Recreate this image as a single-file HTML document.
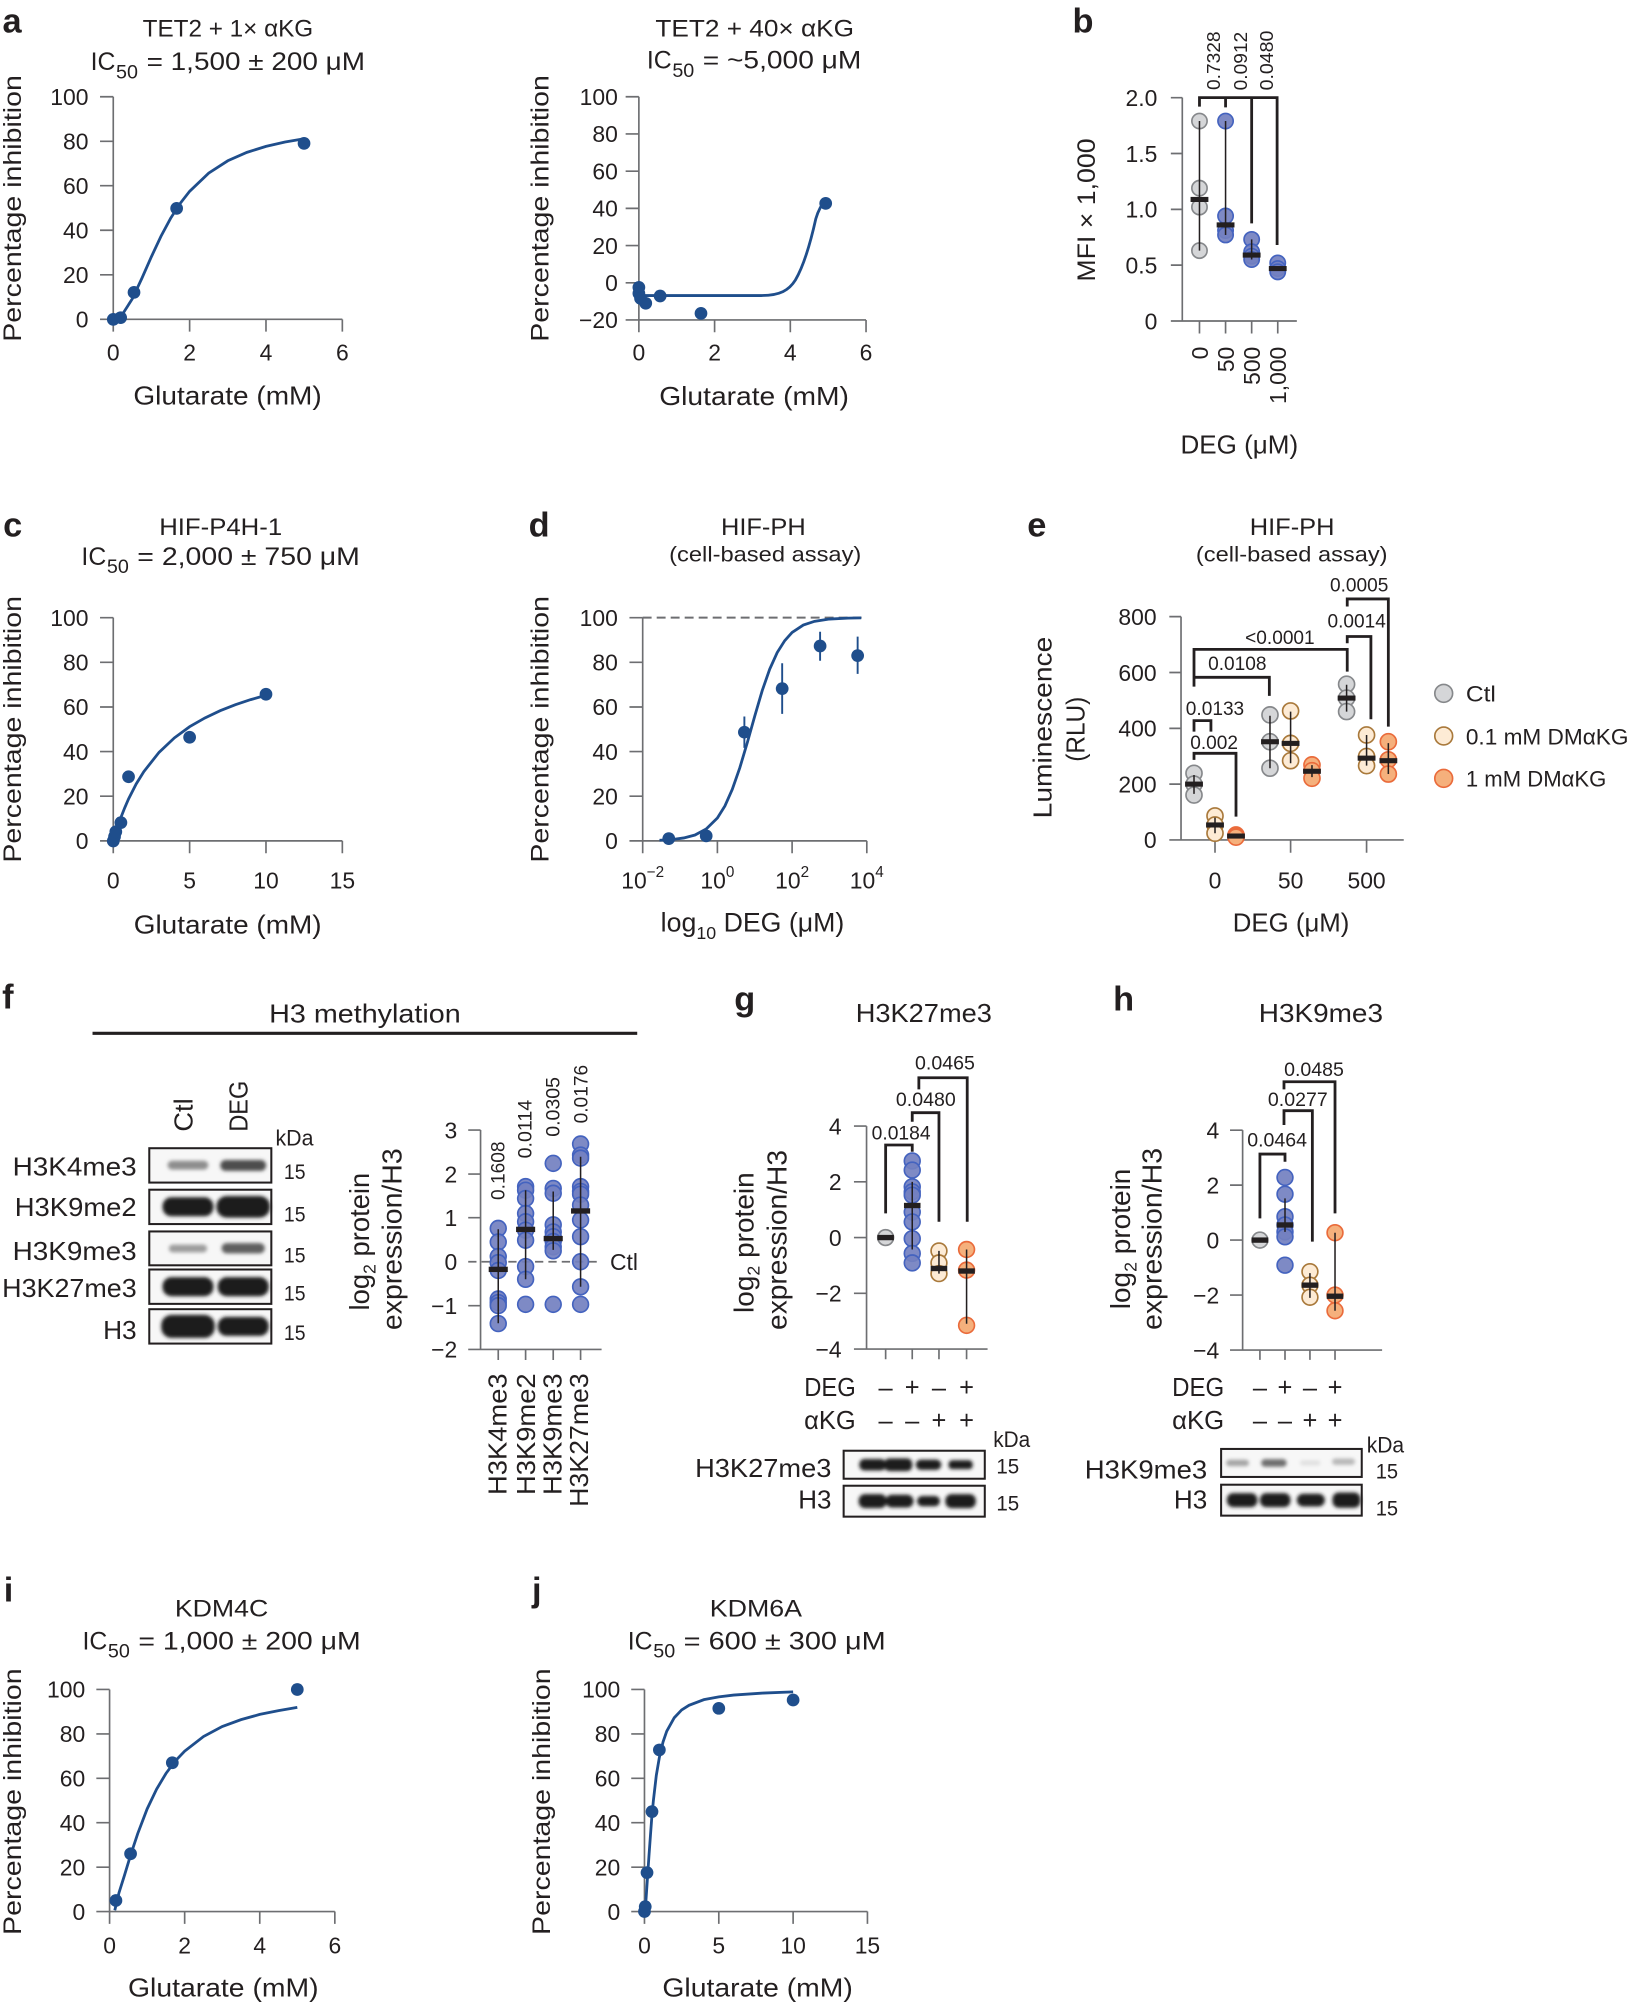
<!DOCTYPE html>
<html><head><meta charset="utf-8"><style>
html,body{margin:0;padding:0;background:#fff;}
svg{display:block;}
text{font-family:"Liberation Sans",Arial,sans-serif;fill:#231f20;}
.lb{font-weight:bold;font-size:27px;}
.ax{stroke:#6d6e71;stroke-width:1.3;fill:none;}
.cv{stroke:#1f4e8c;stroke-width:2.2;fill:none;}
.dt{fill:#1f4e8c;}
.eb{stroke:#1f4e8c;stroke-width:1.5;}
.br{stroke:#231f20;stroke-width:2.2;fill:none;}
.el{stroke:#231f20;stroke-width:1.2;fill:none;}
.mb{fill:#231f20;}
.gr{fill:#d5d6d8;stroke:#86888b;stroke-width:1.3;}
.bl{fill:#7380c0;stroke:#4463bf;stroke-width:1.3;fill-opacity:0.92;}
.tn{fill:#fdebd5;stroke:#a9793b;stroke-width:1.3;}
.or{fill:#f5b07c;stroke:#ea6b3b;stroke-width:1.3;}
.tk{font-size:18px;}
.bx{fill:#f7f7f7;stroke:#231f20;stroke-width:1.6;}
</style></head><body>
<svg width="1629" height="2005" viewBox="0 0 1280 1575.4" xmlns="http://www.w3.org/2000/svg">
<defs><filter id="bl1" x="-30%" y="-60%" width="160%" height="220%"><feGaussianBlur stdDeviation="1.4"/></filter></defs>

<!-- ===== Panel a left ===== -->
<text class="lb" x="2" y="25.5">a</text>
<text x="112.1" y="28.8" font-size="19" textLength="134" lengthAdjust="spacingAndGlyphs">TET2 + 1× αKG</text>
<text x="71.2" y="55" font-size="19.5">IC</text><text x="91.2" y="61.5" font-size="15.5">50</text>
<text x="115.2" y="55" font-size="19.5" textLength="171.6" lengthAdjust="spacingAndGlyphs">= 1,500 ± 200 μM</text>
<path class="ax" d="M89,76V250.9H269M78.6,76H89M78.6,111H89M78.6,145.9H89M78.6,180.9H89M78.6,215.9H89M78.6,250.9H89M89,250.9V260.6M149,250.9V260.6M209,250.9V260.6M269,250.9V260.6"/>
<g class="tk" text-anchor="end"><text x="69.5" y="82.5">100</text><text x="69.5" y="117.5">80</text><text x="69.5" y="152.4">60</text><text x="69.5" y="187.4">40</text><text x="69.5" y="222.4">20</text><text x="69.5" y="257.4">0</text></g>
<g class="tk" text-anchor="middle"><text x="89" y="283.4">0</text><text x="149" y="283.4">2</text><text x="209" y="283.4">4</text><text x="269" y="283.4">6</text></g>
<text x="104.8" y="318" font-size="20" textLength="148" lengthAdjust="spacingAndGlyphs">Glutarate (mM)</text>
<text transform="translate(16.5,268.5) rotate(-90)" font-size="19.5" textLength="209.5" lengthAdjust="spacingAndGlyphs">Percentage inhibition</text>
<polyline class="cv" points="89,250.9 96.5,246.5 104,234.7 111.5,218.6 119,201.6 126.5,185.6 134,171.6 141.5,159.9 149,150.3 164,136 179,126.3 194,119.7 209,115 224,111.6 239,109"/>
<g class="dt"><circle cx="89" cy="250.9" r="5"/><circle cx="94.8" cy="249.6" r="5"/><circle cx="105.3" cy="229.7" r="5"/><circle cx="138.8" cy="163.7" r="5"/><circle cx="238.9" cy="112.6" r="5"/></g>

<!-- ===== Panel a right ===== -->
<text x="515" y="28.5" font-size="19" textLength="156" lengthAdjust="spacingAndGlyphs">TET2 + 40× αKG</text>
<text x="508.3" y="54" font-size="19.5">IC</text><text x="528.3" y="60.5" font-size="15.5">50</text>
<text x="552.2" y="54" font-size="19.5" textLength="124.6" lengthAdjust="spacingAndGlyphs">= ~5,000 μM</text>
<path class="ax" d="M502,76V251.4H680.5M491.6,76H502M491.6,105.2H502M491.6,134.5H502M491.6,163.7H502M491.6,192.9H502M491.6,222.2H502M491.6,251.4H502M502,251.4V261M561.5,251.4V261M621,251.4V261M680.5,251.4V261"/>
<g class="tk" text-anchor="end"><text x="485.5" y="82.5">100</text><text x="485.5" y="111.7">80</text><text x="485.5" y="141">60</text><text x="485.5" y="170.2">40</text><text x="485.5" y="199.4">20</text><text x="485.5" y="228.7">0</text><text x="485.5" y="257.9">−20</text></g>
<g class="tk" text-anchor="middle"><text x="502" y="283.4">0</text><text x="561.5" y="283.4">2</text><text x="621" y="283.4">4</text><text x="680.5" y="283.4">6</text></g>
<text x="518" y="318.2" font-size="20" textLength="149" lengthAdjust="spacingAndGlyphs">Glutarate (mM)</text>
<text transform="translate(431,268.5) rotate(-90)" font-size="19.5" textLength="209.5" lengthAdjust="spacingAndGlyphs">Percentage inhibition</text>
<path class="cv" d="M502,232.2L598,232.2C613,232.2 620,228 625,220C632,208 637,190 641,172C643,165 646,160 649,157"/>
<g class="dt"><circle cx="502" cy="225.8" r="5"/><circle cx="502" cy="230.5" r="5"/><circle cx="503.3" cy="234.4" r="5"/><circle cx="507.4" cy="238.3" r="5"/><circle cx="518.7" cy="232.6" r="5"/><circle cx="550.8" cy="246.2" r="5"/><circle cx="648.8" cy="159.8" r="5"/></g>

<!-- ===== Panel b ===== -->
<text class="lb" x="842.7" y="25.4">b</text>
<text transform="translate(958.5,70.7) rotate(-90)" font-size="14.5" textLength="46" lengthAdjust="spacingAndGlyphs">0.7328</text>
<text transform="translate(979.7,71) rotate(-90)" font-size="14.5" textLength="46" lengthAdjust="spacingAndGlyphs">0.0912</text>
<text transform="translate(1000.4,71) rotate(-90)" font-size="14.5" textLength="47" lengthAdjust="spacingAndGlyphs">0.0480</text>
<path class="ax" d="M929,76.7V252.2H1019M920,76.7H929M920,120.6H929M920,164.5H929M920,208.3H929M920,252.2H929M942.5,252.2V262M963,252.2V262M983.5,252.2V262M1004,252.2V262"/>
<g class="tk" text-anchor="end"><text x="909.4" y="83.2">2.0</text><text x="909.4" y="127.1">1.5</text><text x="909.4" y="171">1.0</text><text x="909.4" y="214.8">0.5</text><text x="909.4" y="258.7">0</text></g>
<g class="tk" text-anchor="end"><text transform="translate(949,272.4) rotate(-90)">0</text><text transform="translate(969.5,272.4) rotate(-90)">50</text><text transform="translate(990,272.4) rotate(-90)">500</text><text transform="translate(1010.5,272.4) rotate(-90)">1,000</text></g>
<text x="927.6" y="356.2" font-size="20" textLength="92.4" lengthAdjust="spacingAndGlyphs">DEG (μM)</text>
<text transform="translate(860.3,221.3) rotate(-90)" font-size="19.5" textLength="112.6" lengthAdjust="spacingAndGlyphs">MFI × 1,000</text>
<path class="br" d="M942.5,83.8V76.7H1003.5V192.5M963,76.7V84.3M983.5,76.7V175.5"/>
<g class="gr"><circle cx="942.5" cy="95.1" r="6"/><circle cx="942.5" cy="147.8" r="6"/><circle cx="942.5" cy="162.7" r="6"/><circle cx="942.5" cy="196.9" r="6"/></g>
<g class="bl"><circle cx="963" cy="95.1" r="6"/><circle cx="963" cy="169.7" r="6"/><circle cx="963" cy="181.1" r="6"/><circle cx="963" cy="184.6" r="6"/>
<circle cx="983.5" cy="188.1" r="6"/><circle cx="983.5" cy="197.8" r="6"/><circle cx="983.5" cy="201.3" r="6"/><circle cx="983.5" cy="203.9" r="6"/>
<circle cx="1004" cy="206.6" r="6"/><circle cx="1004" cy="211" r="6"/><circle cx="1004" cy="213.6" r="6"/></g>
<path class="el" d="M942.5,95.1V196.9M963,95.1V184.6M983.5,188.1V203.9"/>
<g class="mb"><rect x="935.5" y="154.7" width="14" height="4"/><rect x="956" y="174.7" width="14" height="4"/><rect x="976.5" y="198.4" width="14" height="4"/><rect x="997" y="209" width="14" height="4"/></g>

<!-- ===== Panel c ===== -->
<text class="lb" x="2.5" y="421.7">c</text>
<text x="125.1" y="420.4" font-size="19" textLength="96.6" lengthAdjust="spacingAndGlyphs">HIF-P4H-1</text>
<text x="64" y="443.9" font-size="19.5">IC</text><text x="84" y="450.4" font-size="15.5">50</text>
<text x="107.9" y="443.9" font-size="19.5" textLength="174.9" lengthAdjust="spacingAndGlyphs">= 2,000 ± 750 μM</text>
<path class="ax" d="M89,485.3V660.7H269M78.6,485.3H89M78.6,520.4H89M78.6,555.5H89M78.6,590.5H89M78.6,625.6H89M78.6,660.7H89M89,660.7V670.4M149,660.7V670.4M209,660.7V670.4M269,660.7V670.4"/>
<g class="tk" text-anchor="end"><text x="69.5" y="491.8">100</text><text x="69.5" y="526.9">80</text><text x="69.5" y="562">60</text><text x="69.5" y="597">40</text><text x="69.5" y="632.1">20</text><text x="69.5" y="667.2">0</text></g>
<g class="tk" text-anchor="middle"><text x="89" y="698">0</text><text x="149" y="698">5</text><text x="209" y="698">10</text><text x="269" y="698">15</text></g>
<text x="105.1" y="733.4" font-size="20" textLength="147.6" lengthAdjust="spacingAndGlyphs">Glutarate (mM)</text>
<text transform="translate(16.5,677.8) rotate(-90)" font-size="19.5" textLength="209.5" lengthAdjust="spacingAndGlyphs">Percentage inhibition</text>
<polyline class="cv" points="89,660.7 92,651 95,642.3 98,634.7 101,627.8 107,616 113,606.3 125,591.1 137,579.8 149,571 161,564.1 173,558.4 185,553.7 197,549.7 209,546.3"/>
<g class="dt"><circle cx="89" cy="660.8" r="5"/><circle cx="90" cy="657.4" r="5"/><circle cx="91" cy="653.5" r="5"/><circle cx="95" cy="646.4" r="5"/><circle cx="101" cy="610.3" r="5"/><circle cx="149" cy="579.3" r="5"/><circle cx="209" cy="545.5" r="5"/></g>

<!-- ===== Panel d ===== -->
<text class="lb" x="415.4" y="421.7">d</text>
<text x="566.5" y="420.4" font-size="19" textLength="66.6" lengthAdjust="spacingAndGlyphs">HIF-PH</text>
<text x="525.8" y="441.3" font-size="17" textLength="151" lengthAdjust="spacingAndGlyphs">(cell-based assay)</text>
<path d="M505,485.3H677" stroke="#6d6e71" stroke-width="1.6" stroke-dasharray="7 4" fill="none"/>
<path class="ax" d="M505,485.3V660.7H681.1M494.6,485.3H505M494.6,520.4H505M494.6,555.5H505M494.6,590.5H505M494.6,625.6H505M494.6,660.7H505M505,660.7V670.4M563.7,660.7V670.4M622.4,660.7V670.4M681.1,660.7V670.4"/>
<g class="tk" text-anchor="end"><text x="485.5" y="491.8">100</text><text x="485.5" y="526.9">80</text><text x="485.5" y="562">60</text><text x="485.5" y="597">40</text><text x="485.5" y="632.1">20</text><text x="485.5" y="667.2">0</text></g>
<g class="tk" text-anchor="middle"><text x="505" y="698">10<tspan font-size="12" dy="-9">−2</tspan></text><text x="563.7" y="698">10<tspan font-size="12" dy="-9">0</tspan></text><text x="622.4" y="698">10<tspan font-size="12" dy="-9">2</tspan></text><text x="681.1" y="698">10<tspan font-size="12" dy="-9">4</tspan></text></g>
<text x="591.3" y="732" font-size="21" text-anchor="middle">log<tspan font-size="14" dy="6">10</tspan><tspan dy="-6"> DEG (μM)</tspan></text>
<text transform="translate(431,677.8) rotate(-90)" font-size="19.5" textLength="209.5" lengthAdjust="spacingAndGlyphs">Percentage inhibition</text>
<polyline class="cv" points="518.2,660.2 528.5,659.6 537.3,658.4 546.1,656.1 554.9,651.4 563.7,642.7 569.6,633.3 575.4,620.2 581.3,603.3 587.2,583.5 593.1,562.5 598.9,542.7 604.8,525.8 610.7,512.7 616.6,503.4 622.4,496.9 631.2,491.1 640,488.2 651.8,486.4 666.4,485.7 676.7,485.5"/>
<path class="eb" d="M584.9,587.6V563M614.6,560.9V521.1M644.4,519.2V496.4M673.9,529.5V500.2"/>
<g class="dt"><circle cx="525.5" cy="658.9" r="5"/><circle cx="554.9" cy="656.8" r="5"/><circle cx="584.9" cy="575.3" r="5"/><circle cx="614.6" cy="541.1" r="5"/><circle cx="644.4" cy="507.6" r="5"/><circle cx="673.9" cy="515.1" r="5"/></g>

<!-- ===== Panel e ===== -->
<text class="lb" x="807.2" y="421.7">e</text>
<text x="982" y="420.4" font-size="19" textLength="66.6" lengthAdjust="spacingAndGlyphs">HIF-PH</text>
<text x="939.7" y="441.3" font-size="17" textLength="150.6" lengthAdjust="spacingAndGlyphs">(cell-based assay)</text>
<path class="ax" d="M928,484.5V660H1103M918.8,484.5H928M918.8,528.4H928M918.8,572.3H928M918.8,616.1H928M918.8,660H928M954.7,660V670M1014.1,660V670M1073.8,660V670"/>
<g class="tk" text-anchor="end"><text x="908.8" y="491">800</text><text x="908.8" y="534.9">600</text><text x="908.8" y="578.8">400</text><text x="908.8" y="622.6">200</text><text x="908.8" y="666.5">0</text></g>
<g class="tk" text-anchor="middle"><text x="954.7" y="698">0</text><text x="1014.1" y="698">50</text><text x="1073.8" y="698">500</text></g>
<text x="968.7" y="732" font-size="20" textLength="91.6" lengthAdjust="spacingAndGlyphs">DEG (μM)</text>
<text transform="translate(826.1,643) rotate(-90)" font-size="20" textLength="142.7" lengthAdjust="spacingAndGlyphs">Luminescence</text>
<text transform="translate(852,598.5) rotate(-90)" font-size="20" textLength="51" lengthAdjust="spacingAndGlyphs">(RLU)</text>
<g font-size="15" text-anchor="middle">
<text x="1068" y="464.8">0.0005</text><text x="1066" y="492.9">0.0014</text><text x="1005.7" y="506">&lt;0.0001</text><text x="972.2" y="526.4">0.0108</text><text x="954.7" y="561.8">0.0133</text><text x="954" y="588.5">0.002</text></g>
<path class="br" d="M1058.6,476.5V470.6H1090.9V570.9M1058.6,505.4V500.1H1077.2V565.1M938.2,539.5V510.2H1058.6V527.7M938.2,532.2H997.4V546.8M938.2,574.9V566.2H951.5V574.9M938.2,597.1V591.9H971.2V641.6"/>
<g class="gr"><circle cx="938.2" cy="607.6" r="6.3"/><circle cx="938.2" cy="616.1" r="6.3"/><circle cx="938.2" cy="624.7" r="6.3"/>
<circle cx="997.9" cy="561.7" r="6.3"/><circle cx="997.9" cy="582.8" r="6.3"/><circle cx="997.9" cy="603.6" r="6.3"/>
<circle cx="1058.1" cy="537.6" r="6.3"/><circle cx="1058.1" cy="548.5" r="6.3"/><circle cx="1058.1" cy="559.1" r="6.3"/></g>
<g class="tn"><circle cx="954.7" cy="641.1" r="6.3"/><circle cx="954.7" cy="648.2" r="6.3"/><circle cx="954.7" cy="654.7" r="6.3"/>
<circle cx="1014.1" cy="558.6" r="6.3"/><circle cx="1014.1" cy="584.1" r="6.3"/><circle cx="1014.1" cy="597.7" r="6.3"/>
<circle cx="1073.8" cy="577.5" r="6.3"/><circle cx="1073.8" cy="594.4" r="6.3"/><circle cx="1073.8" cy="601.6" r="6.3"/></g>
<g class="or"><circle cx="971.2" cy="656.1" r="6.3"/><circle cx="971.2" cy="656.9" r="6.3"/><circle cx="971.2" cy="657.8" r="6.3"/>
<circle cx="1030.9" cy="601" r="6.3"/><circle cx="1030.9" cy="605.6" r="6.3"/><circle cx="1030.9" cy="611.5" r="6.3"/>
<circle cx="1090.9" cy="582.8" r="6.3"/><circle cx="1090.9" cy="597" r="6.3"/><circle cx="1090.9" cy="608.2" r="6.3"/></g>
<path class="el" d="M938.2,608.9V623.8M954.7,642.4V654.7M997.9,562.4V603.6M1014.1,559.1V599.7M1030.9,601.2V610.6M1058.1,538V559.1M1073.8,577.5V601.6M1090.9,583.9V608.2"/>
<g class="mb"><rect x="931.2" y="614.1" width="14" height="4"/><rect x="947.7" y="646.2" width="14" height="4"/><rect x="964.2" y="654.9" width="14" height="4"/>
<rect x="990.9" y="580.8" width="14" height="4"/><rect x="1007.1" y="582.1" width="14" height="4"/><rect x="1023.9" y="604" width="14" height="4"/>
<rect x="1051.1" y="546.5" width="14" height="4"/><rect x="1066.8" y="593.7" width="14" height="4"/><rect x="1083.9" y="595.7" width="14" height="4"/></g>
<circle class="gr" cx="1134.4" cy="544.8" r="7"/><circle class="tn" cx="1134.4" cy="578.3" r="7"/><circle class="or" cx="1134.4" cy="611.6" r="7"/>
<text x="1151.8" y="551.3" font-size="17.5" textLength="23.6" lengthAdjust="spacingAndGlyphs">Ctl</text>
<text x="1151.8" y="584.8" font-size="17.5" textLength="127.8" lengthAdjust="spacingAndGlyphs">0.1 mM DMαKG</text>
<text x="1151.8" y="618.1" font-size="17.5" textLength="110.4" lengthAdjust="spacingAndGlyphs">1 mM DMαKG</text>

<!-- ===== Panel f ===== -->
<text class="lb" x="1.7" y="792.6">f</text>
<text x="211.5" y="803.6" font-size="20" textLength="150.5" lengthAdjust="spacingAndGlyphs">H3 methylation</text>
<path d="M72.7,811.9H500.7" stroke="#231f20" stroke-width="2.4"/>
<text transform="translate(151.4,889.2) rotate(-90)" font-size="20" textLength="26.2" lengthAdjust="spacingAndGlyphs">Ctl</text>
<text transform="translate(194.4,889.2) rotate(-90)" font-size="20" textLength="40" lengthAdjust="spacingAndGlyphs">DEG</text>
<text x="216.5" y="900.2" font-size="17.5" textLength="29.8" lengthAdjust="spacingAndGlyphs">kDa</text>
<g font-size="20">
<text x="9.9" y="923.7" textLength="97.5" lengthAdjust="spacingAndGlyphs">H3K4me3</text>
<text x="11.6" y="955.4" textLength="95.8" lengthAdjust="spacingAndGlyphs">H3K9me2</text>
<text x="9.9" y="990" textLength="97.5" lengthAdjust="spacingAndGlyphs">H3K9me3</text>
<text x="1.7" y="1019" textLength="105.7" lengthAdjust="spacingAndGlyphs">H3K27me3</text>
<text x="81" y="1052.1" textLength="26.4" lengthAdjust="spacingAndGlyphs">H3</text></g>
<g font-size="17"><text x="223.1" y="926.5" textLength="17" lengthAdjust="spacingAndGlyphs">15</text><text x="223.1" y="959.6" textLength="17" lengthAdjust="spacingAndGlyphs">15</text><text x="223.1" y="991.9" textLength="17" lengthAdjust="spacingAndGlyphs">15</text><text x="223.1" y="1021.8" textLength="17" lengthAdjust="spacingAndGlyphs">15</text><text x="223.1" y="1052.8" textLength="17" lengthAdjust="spacingAndGlyphs">15</text></g>
<rect class="bx" x="117.3" y="902.2" width="95.9" height="27"/>
<rect class="bx" x="117.3" y="934.8" width="95.9" height="27"/>
<rect class="bx" x="117.3" y="967.6" width="95.9" height="26.6"/>
<rect class="bx" x="117.3" y="997.5" width="95.9" height="27"/>
<rect class="bx" x="117.3" y="1028.7" width="95.9" height="27"/>
<g filter="url(#bl1)">
<rect x="131.7" y="912" width="32" height="7" rx="3.5" fill="#8e8e8e"/><rect x="173.1" y="911.5" width="36" height="8.5" rx="4" fill="#4e4e4e"/>
<rect x="127.7" y="940.7" width="40" height="15" rx="7" fill="#1c1c1c"/><rect x="170.1" y="939.7" width="42" height="17" rx="8" fill="#1c1c1c"/>
<rect x="132.7" y="978" width="30" height="6" rx="3" fill="#9c9c9c"/><rect x="174.1" y="976.8" width="34" height="8" rx="4" fill="#5e5e5e"/>
<rect x="127.7" y="1003.5" width="40" height="15" rx="7" fill="#1c1c1c"/><rect x="171.1" y="1003.5" width="40" height="15" rx="7" fill="#1c1c1c"/>
<rect x="126.7" y="1033.2" width="42" height="18" rx="8" fill="#1c1c1c"/><rect x="171.1" y="1034.7" width="40" height="15" rx="7" fill="#1c1c1c"/></g>
<!-- f plot -->
<g font-size="15">
<text transform="translate(396.3,942.9) rotate(-90)" textLength="46" lengthAdjust="spacingAndGlyphs">0.1608</text>
<text transform="translate(417.7,910.2) rotate(-90)" textLength="46" lengthAdjust="spacingAndGlyphs">0.0114</text>
<text transform="translate(439.5,893.2) rotate(-90)" textLength="47" lengthAdjust="spacingAndGlyphs">0.0305</text>
<text transform="translate(461.7,882.7) rotate(-90)" textLength="46" lengthAdjust="spacingAndGlyphs">0.0176</text></g>
<path class="ax" d="M377.6,887.9V1060.3M367.9,1060.3H472.7M367.9,887.9H377.6M367.9,922.5H377.6M367.9,956.8H377.6M367.9,1025.9H377.6M391.5,1060.3V1068.6M413,1060.3V1068.6M434.7,1060.3V1068.6M456.2,1060.3V1068.6"/>
<path d="M367.9,991.4H472" stroke="#6d6e71" stroke-width="1.4" stroke-dasharray="6.5 4" fill="none"/>
<text x="479.3" y="997.9" font-size="18">Ctl</text>
<g class="tk" text-anchor="end"><text x="359.3" y="894.4">3</text><text x="359.3" y="929">2</text><text x="359.3" y="963.3">1</text><text x="359.3" y="997.9">0</text><text x="359.3" y="1032.4">−1</text><text x="359.3" y="1066.8">−2</text></g>
<g font-size="20">
<text transform="translate(398.1,1174.7) rotate(-90)" textLength="95.6" lengthAdjust="spacingAndGlyphs">H3K4me3</text>
<text transform="translate(420.3,1174.7) rotate(-90)" textLength="95.6" lengthAdjust="spacingAndGlyphs">H3K9me2</text>
<text transform="translate(441.3,1174.7) rotate(-90)" textLength="95.6" lengthAdjust="spacingAndGlyphs">H3K9me3</text>
<text transform="translate(462.2,1184) rotate(-90)" textLength="105" lengthAdjust="spacingAndGlyphs">H3K27me3</text></g>
<text transform="translate(290.1,975.6) rotate(-90)" font-size="21.5" text-anchor="middle">log<tspan font-size="14" dy="5">2</tspan><tspan dy="-5"> protein</tspan></text>
<text transform="translate(315.6,1045.1) rotate(-90)" font-size="21.5" textLength="142.8" lengthAdjust="spacingAndGlyphs">expression/H3</text>
<g class="bl">
<circle cx="391.5" cy="965.2" r="6.2"/><circle cx="391.5" cy="975.9" r="6.2"/><circle cx="391.5" cy="987.3" r="6.2"/><circle cx="391.5" cy="992.1" r="6.2"/><circle cx="391.5" cy="998.3" r="6.2"/><circle cx="391.5" cy="1020.7" r="6.2"/><circle cx="391.5" cy="1023.5" r="6.2"/><circle cx="391.5" cy="1025.9" r="6.2"/><circle cx="391.5" cy="1040" r="6.2"/>
<circle cx="413" cy="932.4" r="6.2"/><circle cx="413" cy="935.2" r="6.2"/><circle cx="413" cy="941.7" r="6.2"/><circle cx="413" cy="953.5" r="6.2"/><circle cx="413" cy="960" r="6.2"/><circle cx="413" cy="966.6" r="6.2"/><circle cx="413" cy="974.5" r="6.2"/><circle cx="413" cy="995.2" r="6.2"/><circle cx="413" cy="1005.2" r="6.2"/><circle cx="413" cy="1024.9" r="6.2"/>
<circle cx="434.7" cy="914.1" r="6.2"/><circle cx="434.7" cy="933.8" r="6.2"/><circle cx="434.7" cy="937.6" r="6.2"/><circle cx="434.7" cy="962.4" r="6.2"/><circle cx="434.7" cy="968" r="6.2"/><circle cx="434.7" cy="971.7" r="6.2"/><circle cx="434.7" cy="975.5" r="6.2"/><circle cx="434.7" cy="979.7" r="6.2"/><circle cx="434.7" cy="982.8" r="6.2"/><circle cx="434.7" cy="1024.9" r="6.2"/>
<circle cx="456.2" cy="898.9" r="6.2"/><circle cx="456.2" cy="907.6" r="6.2"/><circle cx="456.2" cy="910" r="6.2"/><circle cx="456.2" cy="932.4" r="6.2"/><circle cx="456.2" cy="936.2" r="6.2"/><circle cx="456.2" cy="938.3" r="6.2"/><circle cx="456.2" cy="946.9" r="6.2"/><circle cx="456.2" cy="958.6" r="6.2"/><circle cx="456.2" cy="971.7" r="6.2"/><circle cx="456.2" cy="991.4" r="6.2"/><circle cx="456.2" cy="1011.1" r="6.2"/><circle cx="456.2" cy="1024.9" r="6.2"/></g>
<path class="el" d="M391.5,965.9V1039.7M413,935.2V1005.2M434.7,936.2V982.1M456.2,908.9V1011.1"/>
<g class="mb"><rect x="384" y="995.3" width="15" height="4.2"/><rect x="405.5" y="963.9" width="15" height="4.2"/><rect x="427.2" y="971.1" width="15" height="4.2"/><rect x="448.7" y="949.4" width="15" height="4.2"/></g>

<!-- ===== Panel g ===== -->
<text class="lb" x="577" y="794">g</text>
<text x="672.4" y="802.9" font-size="20" textLength="107" lengthAdjust="spacingAndGlyphs">H3K27me3</text>
<path class="ax" d="M680.9,884.8V1060H776M671,884.8H680.9M671,928.6H680.9M671,972.4H680.9M671,1016.2H680.9M671,1060H680.9M695.9,1060V1068M716.8,1060V1068M737.8,1060V1068M759.5,1060V1068"/>
<g class="tk" text-anchor="end"><text x="661.3" y="891.3">4</text><text x="661.3" y="935.1">2</text><text x="661.3" y="978.9">0</text><text x="661.3" y="1022.7">−2</text><text x="661.3" y="1066.5">−4</text></g>
<text transform="translate(591.9,976.4) rotate(-90)" font-size="22" text-anchor="middle">log<tspan font-size="14" dy="5">2</tspan><tspan dy="-5"> protein</tspan></text>
<text transform="translate(618.1,1045) rotate(-90)" font-size="22" textLength="141.4" lengthAdjust="spacingAndGlyphs">expression/H3</text>
<g font-size="15">
<text x="684.9" y="895.3" textLength="46.3" lengthAdjust="spacingAndGlyphs">0.0184</text>
<text x="704" y="869" textLength="47" lengthAdjust="spacingAndGlyphs">0.0480</text>
<text x="719" y="840.2" textLength="47" lengthAdjust="spacingAndGlyphs">0.0465</text></g>
<path class="br" d="M695.9,953.4V899.7H716.8V905M716.8,881.4V874.3H737.8V960M722,856V846.8H760V960"/>
<circle class="gr" cx="695.9" cy="972.4" r="6.2"/>
<g class="bl"><circle cx="716.8" cy="912.2" r="6.2"/><circle cx="716.8" cy="919.4" r="6.2"/><circle cx="716.8" cy="932.5" r="6.2"/><circle cx="716.8" cy="936.5" r="6.2"/><circle cx="716.8" cy="939.1" r="6.2"/><circle cx="716.8" cy="952.3" r="6.2"/><circle cx="716.8" cy="960.1" r="6.2"/><circle cx="716.8" cy="973.3" r="6.2"/><circle cx="716.8" cy="984.9" r="6.2"/><circle cx="716.8" cy="992.3" r="6.2"/></g>
<g class="tn"><circle cx="737.8" cy="982.9" r="6.2"/><circle cx="737.8" cy="992.3" r="6.2"/><circle cx="737.8" cy="1000.7" r="6.2"/></g>
<g class="or"><circle cx="759.5" cy="981.8" r="6.2"/><circle cx="759.5" cy="998" r="6.2"/><circle cx="759.5" cy="1041.4" r="6.2"/></g>
<path class="el" d="M716.8,928.6V981.8M737.8,982.9V1000.7M759.5,981.8V1040.1"/>
<g class="mb"><rect x="689.4" y="970.3" width="13" height="4.2"/><rect x="710.3" y="945.1" width="13" height="4.2"/><rect x="731.3" y="994.6" width="13" height="4.2"/><rect x="753" y="996.6" width="13" height="4.2"/></g>
<text x="631.9" y="1097.1" font-size="20" textLength="40.5" lengthAdjust="spacingAndGlyphs">DEG</text>
<text x="631.9" y="1122.7" font-size="20" textLength="40.5" lengthAdjust="spacingAndGlyphs">αKG</text>
<g font-size="20" text-anchor="middle">
<text x="695.9" y="1097.1">–</text><text x="716.8" y="1097.1">+</text><text x="737.8" y="1097.1">–</text><text x="759.5" y="1097.1">+</text>
<text x="695.9" y="1122.7">–</text><text x="716.8" y="1122.7">–</text><text x="737.8" y="1122.7">+</text><text x="759.5" y="1122.7">+</text></g>
<text x="780.5" y="1137.1" font-size="17.5" textLength="29" lengthAdjust="spacingAndGlyphs">kDa</text>
<text x="546.2" y="1160.5" font-size="20" textLength="107.1" lengthAdjust="spacingAndGlyphs">H3K27me3</text>
<text x="627.2" y="1185.4" font-size="20" textLength="26.1" lengthAdjust="spacingAndGlyphs">H3</text>
<text x="782.9" y="1157.8" font-size="17" textLength="18" lengthAdjust="spacingAndGlyphs">15</text>
<text x="782.9" y="1186.8" font-size="17" textLength="18" lengthAdjust="spacingAndGlyphs">15</text>
<rect class="bx" x="662.9" y="1139.9" width="110.9" height="22"/>
<rect class="bx" x="662.9" y="1167.4" width="110.9" height="24.3"/>
<g filter="url(#bl1)" fill="#1c1c1c">
<rect x="675.2" y="1146.4" width="21" height="9" rx="4"/><rect x="694.8" y="1145.9" width="22" height="10" rx="4"/><rect x="719.6" y="1146.9" width="20" height="8" rx="4"/><rect x="745.3" y="1147.4" width="19" height="7" rx="3"/>
<rect x="674.7" y="1174" width="22" height="11" rx="5"/><rect x="695.8" y="1174.5" width="22" height="10" rx="5"/><rect x="720.6" y="1175.5" width="18" height="8" rx="4"/><rect x="742.8" y="1174" width="24" height="11" rx="5"/></g>

<!-- ===== Panel h ===== -->
<text class="lb" x="874.7" y="793.9">h</text>
<text x="989.1" y="802.9" font-size="20" textLength="97.6" lengthAdjust="spacingAndGlyphs">H3K9me3</text>
<path class="ax" d="M976.4,888V1060.8H1086M966.5,888H976.4M966.5,931.2H976.4M966.5,974.4H976.4M966.5,1017.6H976.4M966.5,1060.8H976.4M990,1060.8V1068.5M1009.7,1060.8V1068.5M1029.3,1060.8V1068.5M1049,1060.8V1068.5"/>
<g class="tk" text-anchor="end"><text x="958" y="894.5">4</text><text x="958" y="937.7">2</text><text x="958" y="980.9">0</text><text x="958" y="1024.1">−2</text><text x="958" y="1067.3">−4</text></g>
<text transform="translate(887.9,973.5) rotate(-90)" font-size="22" text-anchor="middle">log<tspan font-size="14" dy="5">2</tspan><tspan dy="-5"> protein</tspan></text>
<text transform="translate(912.8,1045) rotate(-90)" font-size="22" textLength="143" lengthAdjust="spacingAndGlyphs">expression/H3</text>
<g font-size="15">
<text x="980" y="901" textLength="47" lengthAdjust="spacingAndGlyphs">0.0464</text>
<text x="996.3" y="869" textLength="47" lengthAdjust="spacingAndGlyphs">0.0277</text>
<text x="1009" y="845.5" textLength="47" lengthAdjust="spacingAndGlyphs">0.0485</text></g>
<path class="br" d="M990,957.3V906.8H1009.7V912.8M1008.9,884V872.7H1031.2V975.6M1008.9,856V850H1049V953.4"/>
<circle class="gr" cx="990" cy="974.4" r="6.2"/>
<g class="bl"><circle cx="1009.7" cy="925.2" r="6.2"/><circle cx="1009.7" cy="938.3" r="6.2"/><circle cx="1009.7" cy="956" r="6.2"/><circle cx="1009.7" cy="962.5" r="6.2"/><circle cx="1009.7" cy="967.9" r="6.2"/><circle cx="1009.7" cy="971.8" r="6.2"/><circle cx="1009.7" cy="994.1" r="6.2"/></g>
<g class="tn"><circle cx="1029.3" cy="999.2" r="6.2"/><circle cx="1029.3" cy="1009.8" r="6.2"/><circle cx="1029.3" cy="1019.3" r="6.2"/></g>
<g class="or"><circle cx="1049" cy="968.6" r="6.2"/><circle cx="1049" cy="1017.6" r="6.2"/><circle cx="1049" cy="1029.9" r="6.2"/></g>
<path class="el" d="M1009.7,941.6V967.9M1029.3,1000.3V1019.8M1049,968.6V1029.9"/>
<g class="mb"><rect x="983.5" y="972.3" width="13" height="4.2"/><rect x="1003.2" y="960.4" width="13" height="4.2"/><rect x="1022.8" y="1007.7" width="13" height="4.2"/><rect x="1042.5" y="1016.4" width="13" height="4.2"/></g>
<text x="921" y="1097.1" font-size="20" textLength="40.9" lengthAdjust="spacingAndGlyphs">DEG</text>
<text x="921" y="1122.7" font-size="20" textLength="40.9" lengthAdjust="spacingAndGlyphs">αKG</text>
<g font-size="20" text-anchor="middle">
<text x="990" y="1097.1">–</text><text x="1009.7" y="1097.1">+</text><text x="1029.3" y="1097.1">–</text><text x="1049" y="1097.1">+</text>
<text x="990" y="1122.7">–</text><text x="1009.7" y="1122.7">–</text><text x="1029.3" y="1122.7">+</text><text x="1049" y="1122.7">+</text></g>
<text x="1073.9" y="1141.3" font-size="17.5" textLength="29.4" lengthAdjust="spacingAndGlyphs">kDa</text>
<text x="852.4" y="1161.9" font-size="20" textLength="96.2" lengthAdjust="spacingAndGlyphs">H3K9me3</text>
<text x="922.4" y="1185.4" font-size="20" textLength="26.2" lengthAdjust="spacingAndGlyphs">H3</text>
<text x="1081" y="1161.9" font-size="17" textLength="17.6" lengthAdjust="spacingAndGlyphs">15</text>
<text x="1081" y="1190.9" font-size="17" textLength="17.6" lengthAdjust="spacingAndGlyphs">15</text>
<rect class="bx" x="959.5" y="1138.5" width="110.5" height="22"/>
<rect class="bx" x="959.5" y="1166.6" width="110.5" height="24.3"/>
<g filter="url(#bl1)">
<rect x="963.4" y="1147" width="18" height="5" rx="2.5" fill="#a4a4a4"/><rect x="991" y="1146.5" width="20" height="6" rx="3" fill="#6e6e6e"/><rect x="1021.5" y="1147.5" width="16" height="4" rx="2" fill="#e0e0e0"/><rect x="1046.7" y="1146" width="18" height="5" rx="2.5" fill="#b8b8b8"/>
<rect x="964" y="1173.2" width="24" height="11" rx="5" fill="#1c1c1c"/><rect x="990" y="1173.2" width="24" height="11" rx="5" fill="#1c1c1c"/><rect x="1019" y="1173.7" width="22" height="10" rx="5" fill="#1c1c1c"/><rect x="1047" y="1172.7" width="22" height="12" rx="5" fill="#1c1c1c"/></g>

<!-- ===== Panel i ===== -->
<text class="lb" x="3" y="1258.5">i</text>
<text x="137.4" y="1270.3" font-size="19" textLength="73.4" lengthAdjust="spacingAndGlyphs">KDM4C</text>
<text x="64.8" y="1295.9" font-size="19.5">IC</text><text x="84.8" y="1302.4" font-size="15.5">50</text>
<text x="108.7" y="1295.9" font-size="19.5" textLength="174.7" lengthAdjust="spacingAndGlyphs">= 1,000 ± 200 μM</text>
<path class="ax" d="M86.1,1327.5V1502H263.1M75.7,1327.5H86.1M75.7,1362.4H86.1M75.7,1397.3H86.1M75.7,1432.2H86.1M75.7,1467.1H86.1M75.7,1502H86.1M86.1,1502V1511.7M145.1,1502V1511.7M204.1,1502V1511.7M263.1,1502V1511.7"/>
<g class="tk" text-anchor="end"><text x="67" y="1334">100</text><text x="67" y="1368.9">80</text><text x="67" y="1403.8">60</text><text x="67" y="1438.7">40</text><text x="67" y="1473.6">20</text><text x="67" y="1508.5">0</text></g>
<g class="tk" text-anchor="middle"><text x="86.1" y="1534.8">0</text><text x="145.1" y="1534.8">2</text><text x="204.1" y="1534.8">4</text><text x="263.1" y="1534.8">6</text></g>
<text x="100.6" y="1568.9" font-size="20" textLength="149.7" lengthAdjust="spacingAndGlyphs">Glutarate (mM)</text>
<text transform="translate(16.5,1520.4) rotate(-90)" font-size="19.5" textLength="209.5" lengthAdjust="spacingAndGlyphs">Percentage inhibition</text>
<polyline class="cv" points="90.2,1501 93.5,1487.2 97.9,1473.2 102.6,1457.7 108.2,1440.8 115.6,1421.4 123,1405.9 130.4,1393.5 137.7,1383.7 145.1,1376 159.9,1364.5 174.6,1356.6 189.4,1351.2 204.1,1347.1 218.9,1344.1 233.6,1341.6"/>
<g class="dt"><circle cx="91.1" cy="1493.3" r="5"/><circle cx="102.6" cy="1456.6" r="5"/><circle cx="135.4" cy="1385.1" r="5"/><circle cx="233.6" cy="1327.5" r="5"/></g>

<!-- ===== Panel j ===== -->
<text class="lb" x="418" y="1258.5">j</text>
<text x="557.7" y="1270.3" font-size="19" textLength="72.5" lengthAdjust="spacingAndGlyphs">KDM6A</text>
<text x="493.3" y="1295.9" font-size="19.5">IC</text><text x="513.3" y="1302.4" font-size="15.5">50</text>
<text x="537.2" y="1295.9" font-size="19.5" textLength="158.8" lengthAdjust="spacingAndGlyphs">= 600 ± 300 μM</text>
<path class="ax" d="M506.4,1327.5V1502H681.6M496,1327.5H506.4M496,1362.4H506.4M496,1397.3H506.4M496,1432.2H506.4M496,1467.1H506.4M496,1502H506.4M506.4,1502V1511.7M564.8,1502V1511.7M623.2,1502V1511.7M681.6,1502V1511.7"/>
<g class="tk" text-anchor="end"><text x="487.4" y="1334">100</text><text x="487.4" y="1368.9">80</text><text x="487.4" y="1403.8">60</text><text x="487.4" y="1438.7">40</text><text x="487.4" y="1473.6">20</text><text x="487.4" y="1508.5">0</text></g>
<g class="tk" text-anchor="middle"><text x="506.4" y="1534.8">0</text><text x="564.8" y="1534.8">5</text><text x="623.2" y="1534.8">10</text><text x="681.6" y="1534.8">15</text></g>
<text x="520.5" y="1568.9" font-size="20" textLength="149.6" lengthAdjust="spacingAndGlyphs">Glutarate (mM)</text>
<text transform="translate(432,1520.4) rotate(-90)" font-size="19.5" textLength="209.5" lengthAdjust="spacingAndGlyphs">Percentage inhibition</text>
<polyline class="cv" points="506.4,1502 507,1498.8 507.6,1492.6 508.7,1476.3 509.9,1458.7 511.1,1442.1 512.2,1427.3 513.4,1414.8 515.7,1395 518.1,1380.9 521,1368.7 523.9,1360.3 529.8,1349.7 535.6,1343.6 541.4,1339.9 553.1,1335.5 564.8,1333.3 576.5,1331.9 599.8,1330.3 623.2,1329.4"/>
<g class="dt"><circle cx="506.4" cy="1502" r="5"/><circle cx="507" cy="1498.1" r="5"/><circle cx="508.4" cy="1471.4" r="5"/><circle cx="512.3" cy="1423.5" r="5"/><circle cx="518.1" cy="1375" r="5"/><circle cx="564.8" cy="1342.3" r="5"/><circle cx="623.2" cy="1335.8" r="5"/></g>
</svg>
</body></html>
